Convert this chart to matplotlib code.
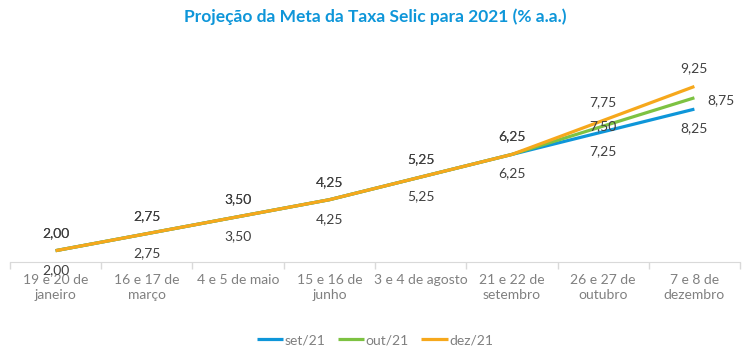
import numpy as np
import matplotlib.pyplot as plt

# data
categorias = ["19 e 20 de\njaneiro", "16 e 17 de\nmarço", "4 e 5 de maio",
              "15 e 16 de\njunho", "3 e 4 de agosto", "21 e 22 de\nsetembro",
              "26 e 27 de\noutubro", "7 e 8 de\ndezembro"]
set21 = [2.00, 2.75, 3.50, 4.25, 5.25, 6.25, 7.25, 8.25]
out21 = [2.00, 2.75, 3.50, 4.25, 5.25, 6.25, 7.50, 8.75]
dez21 = [2.00, 2.75, 3.50, 4.25, 5.25, 6.25, 7.75, 9.25]

plt.rcParams['font.family'] = ['Lato', 'DejaVu Sans']

fig = plt.figure(figsize=(7.5, 3.55), dpi=100)
ax = fig.add_axes([0.0133, 0.262, 0.9734, 0.606])

x = np.arange(len(categorias))
c_set, c_out, c_dez = '#0E96D9', '#7DC242', '#F6A81C'

ax.plot(x, set21, color=c_set, lw=2.3, label='set/21', solid_capstyle='butt')
ax.plot(x, out21, color=c_out, lw=2.3, label='out/21', solid_capstyle='butt')
ax.plot(x, dez21, color=c_dez, lw=2.3, label='dez/21', solid_capstyle='butt')

fmt = lambda v: f"{v:.2f}".replace('.', ',')
lbl = dict(textcoords='offset pixels', ha='center', va='center',
           fontsize=10, color='#404040')

for xi, v in zip(x, set21):
    ax.annotate(fmt(v), (xi, v), xytext=(0, -19), **lbl)
for xi, v in zip(x, dez21):
    ax.annotate(fmt(v), (xi, v), xytext=(0, 18), **lbl)
for i, v in enumerate(out21):
    if i < 6:
        off = (0, 18)
    elif i == 6:
        off = (0, 0)
    else:
        off = (27, -2)
    ax.annotate(fmt(v), (x[i], v), xytext=off, **lbl)

ax.set_xlim(-0.5, len(categorias) - 0.5)
ax.set_ylim(1.5, 11)
ax.set_yticks([])
ax.set_xticks(x)
ax.set_xticklabels(categorias, fontsize=10, color='#808080', linespacing=1.3)
ax.set_xticks(np.arange(-0.5, len(categorias)), minor=True)
ax.tick_params(axis='x', which='major', length=0, pad=9)
ax.tick_params(axis='x', which='minor', length=5, color='#d9d9d9', width=1)
for s in ['top', 'right', 'left']:
    ax.spines[s].set_visible(False)
ax.spines['bottom'].set_color('#d9d9d9')

fig.text(0.5, 0.952, "Projeção da Meta da Taxa Selic para 2021 (% a.a.)",
         ha='center', va='center', fontsize=12.5, fontweight='bold', color='#0E96D9')

leg = fig.legend(loc='center', bbox_to_anchor=(0.5, 0.042), ncol=3, frameon=False,
                 fontsize=10, handlelength=1.9, handletextpad=0.1, columnspacing=0.9)
for t in leg.get_texts():
    t.set_color('#808080')

fig.savefig('out.png', dpi=100)
